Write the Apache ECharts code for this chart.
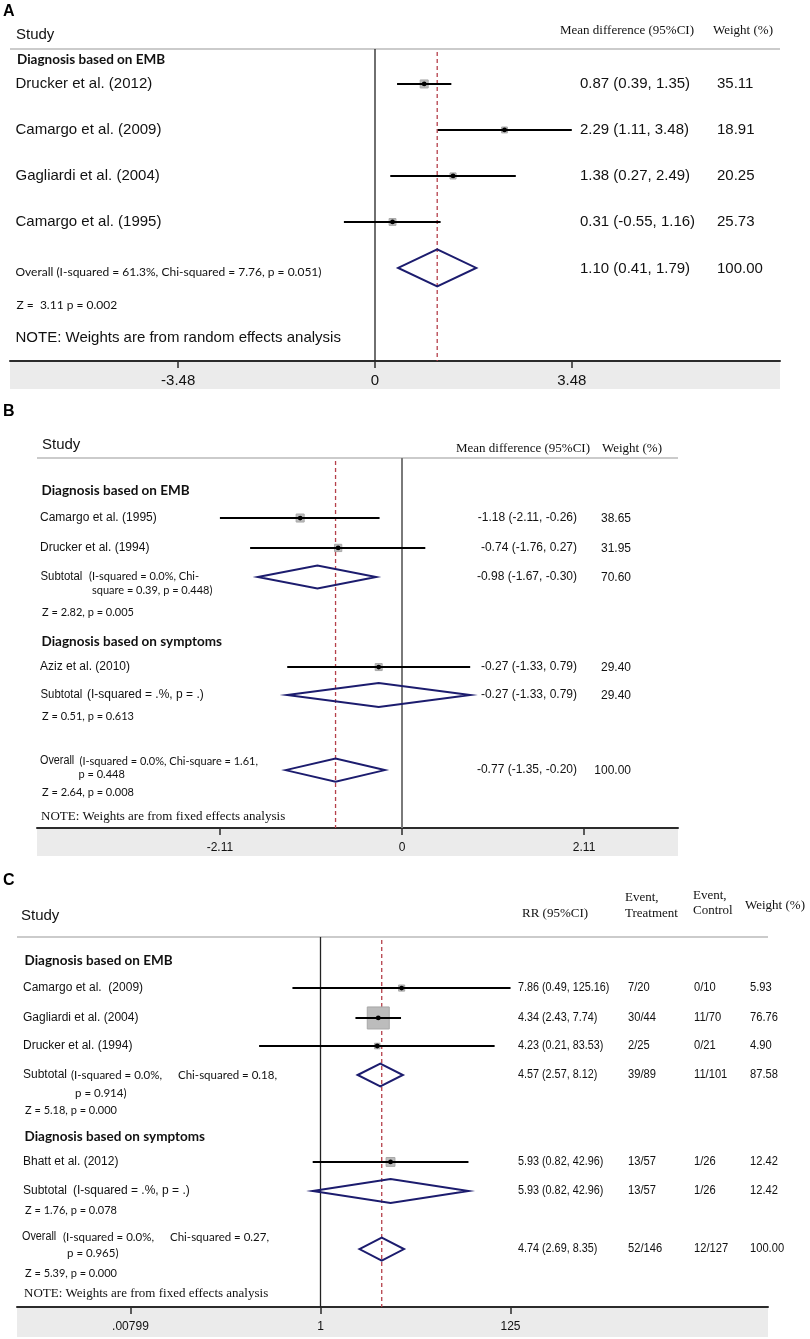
<!DOCTYPE html>
<html><head><meta charset="utf-8">
<script src="https://cdn.jsdelivr.net/npm/echarts@6/dist/echarts.min.js"></script>
<style>html,body{margin:0;padding:0;background:#fff}#main{width:810px;height:1339px}</style>
</head><body><div id="main"></div>
<script>
// ================= DATA =================
// ---- Panel A : mean difference, random effects ----
const aStudies = ['Drucker et al. (2012)', 'Camargo et al. (2009)', 'Gagliardi et al. (2004)', 'Camargo et al. (1995)'];
const aEst    = [0.87, 2.29, 1.38, 0.31];
const aLow    = [0.39, 1.11, 0.27, -0.55];
const aHigh   = [1.35, 3.48, 2.49, 1.16];
const aWeight = [35.11, 18.91, 20.25, 25.73];
const aOverall = [1.10, 0.41, 1.79, 100.00];          // est, low, high, weight
const aGroup = 'Diagnosis based on EMB';
const aOverallText = 'Overall (I-squared = 61.3%, Chi-squared = 7.76, p = 0.051)';
const aZText = 'Z =  3.11 p = 0.002';
const aNote = 'NOTE: Weights are from random effects analysis';
const aTicks = [-3.48, 0, 3.48];
const aTickLabels = ['-3.48', '0', '3.48'];

// ---- Panel B : mean difference, fixed effects ----
const bGroups = ['Diagnosis based on EMB', 'Diagnosis based on symptoms'];
const bStudies = ['Camargo et al. (1995)', 'Drucker et al. (1994)', 'Aziz et al. (2010)'];
const bEst    = [-1.18, -0.74, -0.27];
const bLow    = [-2.11, -1.76, -1.33];
const bHigh   = [-0.26, 0.27, 0.79];
const bWeight = [38.65, 31.95, 29.40];
const bSubEst    = [-0.98, -0.27];
const bSubLow    = [-1.67, -1.33];
const bSubHigh   = [-0.30, 0.79];
const bSubWeight = [70.60, 29.40];
const bOverall = [-0.77, -1.35, -0.20, 100.00];
const bSubHet = [['(I-squared = 0.0%, Chi-', 'square = 0.39, p = 0.448)'], ['(I-squared = .%, p = .)']];
const bZ = ['Z = 2.82, p = 0.005', 'Z = 0.51, p = 0.613', 'Z = 2.64, p = 0.008'];
const bOverallHet = ['(I-squared = 0.0%, Chi-square = 1.61,', 'p = 0.448'];
const bNote = 'NOTE: Weights are from fixed effects analysis';
const bTicks = [-2.11, 0, 2.11];
const bTickLabels = ['-2.11', '0', '2.11'];

// ---- Panel C : risk ratio, fixed effects ----
const cGroups = ['Diagnosis based on EMB', 'Diagnosis based on symptoms'];
const cStudies = ['Camargo et al.  (2009)', 'Gagliardi et al. (2004)', 'Drucker et al. (1994)', 'Bhatt et al. (2012)'];
const cEst    = [7.86, 4.34, 4.23, 5.93];
const cLow    = [0.49, 2.43, 0.21, 0.82];
const cHigh   = [125.16, 7.74, 83.53, 42.96];
const cEvT    = ['7/20', '30/44', '2/25', '13/57'];
const cEvC    = ['0/10', '11/70', '0/21', '1/26'];
const cWeight = [5.93, 76.76, 4.90, 12.42];
const cSubEst  = [4.57, 5.93];
const cSubLow  = [2.57, 0.82];
const cSubHigh = [8.12, 42.96];
const cSubEvT  = ['39/89', '13/57'];
const cSubEvC  = ['11/101', '1/26'];
const cSubWeight = [87.58, 12.42];
const cOverall = [4.74, 2.69, 8.35, 100.00];
const cOverallEv = ['52/146', '12/127'];
const cSubHet = [['(I-squared = 0.0%,', 'Chi-squared = 0.18,', 'p = 0.914)'], ['(I-squared = .%, p = .)']];
const cOverallHet = ['(I-squared = 0.0%,', 'Chi-squared = 0.27,', 'p = 0.965)'];
const cZ = ['Z = 5.18, p = 0.000', 'Z = 1.76, p = 0.078', 'Z = 5.39, p = 0.000'];
const cNote = 'NOTE: Weights are from fixed effects analysis';
const cTicks = [0.00799, 1, 125];
const cTickLabels = ['.00799', '1', '125'];

// ================= STYLE / LAYOUT =================
const AR = '"Liberation Sans", Arial, Helvetica, sans-serif';
const TR = '"Liberation Serif", "Times New Roman", serif';
const CL = 'Lato, "Open Sans", sans-serif';
const f = (s, fam, w) => (w ? w + ' ' : '') + s + 'px ' + fam;
const ci = (e, l, h) => e.toFixed(2) + ' (' + l.toFixed(2) + ', ' + h.toFixed(2) + ')';
const T = (text, x, slot, font, o) => Object.assign({ text, x, slot, font, dy: 0, align: 'left', sx: 1 }, o || {});
const id = v => v;

// ---------- Panel A ----------
const aSlots = { group: 0.45, studies: [1.52, 3.52, 5.52, 7.52], overall: 9.52, z: 11.13, note: 12.57 };
const PA = {
  grid: { left: 10, top: 49, width: 770, height: 312 }, zeroPx: 375, ppu: 56.55, unit: 23, tf: id, nullV: 0,
  ticks: aTicks, tickLabels: aTickLabels, tickFont: 15, labelMargin: 12, bandH: 28,
  zeroColor: '#222', zeroW: 1.3, overall: aOverall, boxK: 1.35,
  studies: aEst.map((e, j) => [aLow[j], aHigh[j], e, aSlots.studies[j], aWeight[j]]),
  diamonds: [[aOverall[1], aOverall[2], aOverall[0], aSlots.overall]], diamondH: [18.5],
  texts: [
    T('Study', 16, -0.62, f(15, AR)),
    T('Mean difference (95%CI)', 560, -0.8, f(13, TR)),
    T('Weight (%)', 713, -0.78, f(13, TR)),
    T(aGroup, 17, aSlots.group, f(13.5, CL, 'bold')),
    ...aStudies.map((s, j) => T(s, 15.5, aSlots.studies[j], f(15, AR))),
    ...aEst.map((e, j) => T(ci(e, aLow[j], aHigh[j]), 580, aSlots.studies[j], f(15, AR))),
    ...aWeight.map((w, j) => T(w.toFixed(2), 717, aSlots.studies[j], f(15, AR))),
    T(aOverallText, 15.5, aSlots.overall, f(12, CL), { dy: 4 }),
    T(ci(aOverall[0], aOverall[1], aOverall[2]), 580, aSlots.overall, f(15, AR), { dy: 1 }),
    T(aOverall[3].toFixed(2), 717, aSlots.overall, f(15, AR), { dy: 1 }),
    T(aZText, 16.5, aSlots.z, f(12, CL)),
    T(aNote, 15.5, aSlots.note, f(15, AR))
  ]
};

// ---------- Panel B ----------
const bSlots = { groups: [1.43, 8.0], studies: [2.61, 3.91, 9.09], subs: [5.17, 10.3], z: [6.7, 11.22, 14.52], overall: 13.57, note: 15.57 };
const PB = {
  grid: { left: 37, top: 458, width: 641, height: 370 }, zeroPx: 402, ppu: 86.3, unit: 23, tf: id, nullV: 0,
  ticks: bTicks, tickLabels: bTickLabels, tickFont: 12, labelMargin: 14, bandH: 28,
  zeroColor: '#7a7a7a', zeroW: 2, overall: bOverall, boxK: 1.29,
  studies: bEst.map((e, j) => [bLow[j], bHigh[j], e, bSlots.studies[j], bWeight[j]]),
  diamonds: [
    [bSubLow[0], bSubHigh[0], bSubEst[0], bSlots.subs[0]],
    [bSubLow[1], bSubHigh[1], bSubEst[1], bSlots.subs[1]],
    [bOverall[1], bOverall[2], bOverall[0], bSlots.overall]
  ], diamondH: [11.5, 12, 11.5],
  texts: [
    T('Study', 42, -0.565, f(15, AR)),
    T('Mean difference (95%CI)', 456, -0.43, f(13, TR)),
    T('Weight (%)', 602, -0.43, f(13, TR)),
    ...bGroups.map((g, j) => T(g, 41.5, bSlots.groups[j], f(13.5, CL, 'bold'))),
    ...bStudies.map((s, j) => T(s, 40, bSlots.studies[j], f(12, AR))),
    ...bEst.map((e, j) => T(ci(e, bLow[j], bHigh[j]), 577, bSlots.studies[j], f(12, AR), { align: 'right' })),
    ...bWeight.map((w, j) => T(w.toFixed(2), 631, bSlots.studies[j], f(12, AR), { align: 'right', dy: 1 })),
    T('Subtotal', 40.5, bSlots.subs[0], f(12, AR), { sx: 0.95 }),
    T(bSubHet[0][0], 89, bSlots.subs[0], f(11, CL)),
    T(bSubHet[0][1], 92, bSlots.subs[0], f(11, CL), { dy: 14 }),
    T('Subtotal', 40.5, bSlots.subs[1], f(12, AR), { sx: 0.95 }),
    T(bSubHet[1][0], 87, bSlots.subs[1], f(12, AR)),
    ...bSubEst.map((e, j) => T(ci(e, bSubLow[j], bSubHigh[j]), 577, bSlots.subs[j], f(12, AR), { align: 'right' })),
    ...bSubWeight.map((w, j) => T(w.toFixed(2), 631, bSlots.subs[j], f(12, AR), { align: 'right', dy: 1 })),
    ...bZ.map((z, j) => T(z, 42, bSlots.z[j], f(11, CL))),
    T('Overall', 40, bSlots.overall, f(12, AR), { dy: -9, sx: 0.9 }),
    T(bOverallHet[0], 79.5, bSlots.overall, f(11, CL), { dy: -9 }),
    T(bOverallHet[1], 78.5, bSlots.overall, f(11, CL), { dy: 4 }),
    T(ci(bOverall[0], bOverall[1], bOverall[2]), 577, bSlots.overall, f(12, AR), { align: 'right' }),
    T(bOverall[3].toFixed(2), 631, bSlots.overall, f(12, AR), { align: 'right', dy: 1 }),
    T(bNote, 41, bSlots.note, f(13, TR))
  ]
};

// ---------- Panel C ----------
const cSlots = { groups: [1.04, 8.7], studies: [2.22, 3.52, 4.74, 9.78], subs: [6.0, 11.04], z: [7.52, 11.87, 14.65], overall: 13.57, note: 15.52 };
const cCols = { est: 518, evT: 628, evC: 694, w: 750 };
const PC = {
  grid: { left: 17, top: 937, width: 751, height: 370 }, zeroPx: 320.5, ppu: 39.35, unit: 23, tf: Math.log, nullV: 1,
  ticks: cTicks, tickLabels: cTickLabels, tickFont: 12, labelMargin: 14, bandH: 30,
  zeroColor: '#222', zeroW: 1.3, overall: cOverall, boxK: 2.51,
  studies: cEst.map((e, j) => [cLow[j], cHigh[j], e, cSlots.studies[j], cWeight[j]]),
  diamonds: [
    [cSubLow[0], cSubHigh[0], cSubEst[0], cSlots.subs[0]],
    [cSubLow[1], cSubHigh[1], cSubEst[1], cSlots.subs[1]],
    [cOverall[1], cOverall[2], cOverall[0], cSlots.overall]
  ], diamondH: [11.5, 12, 11.5],
  texts: [
    T('Study', 21, -0.91, f(15, AR)),
    T('RR (95%CI)', 522, -1.04, f(13, TR)),
    T('Event,', 625, -1.7, f(13, TR)),
    T('Treatment', 625, -1.04, f(13, TR)),
    T('Event,', 693, -1.78, f(13, TR)),
    T('Control', 693, -1.13, f(13, TR)),
    T('Weight (%)', 745, -1.35, f(13, TR)),
    ...cGroups.map((g, j) => T(g, 24.5, cSlots.groups[j], f(13.5, CL, 'bold'))),
    ...cStudies.map((s, j) => T(s, 23, cSlots.studies[j], f(12, AR))),
    ...cEst.map((e, j) => T(ci(e, cLow[j], cHigh[j]), cCols.est, cSlots.studies[j], f(12, AR), { sx: 0.9 })),
    ...cEvT.map((s, j) => T(s, cCols.evT, cSlots.studies[j], f(12, AR), { sx: 0.93 })),
    ...cEvC.map((s, j) => T(s, cCols.evC, cSlots.studies[j], f(12, AR), { sx: 0.93 })),
    ...cWeight.map((w, j) => T(w.toFixed(2), cCols.w, cSlots.studies[j], f(12, AR), { sx: 0.93 })),
    T('Subtotal', 23, cSlots.subs[0], f(12, AR)),
    T(cSubHet[0][0], 71, cSlots.subs[0], f(11.5, CL)),
    T(cSubHet[0][1], 178, cSlots.subs[0], f(11.5, CL)),
    T(cSubHet[0][2], 75, cSlots.subs[0], f(11.5, CL), { dy: 18 }),
    T('Subtotal', 23, cSlots.subs[1], f(12, AR)),
    T(cSubHet[1][0], 73, cSlots.subs[1], f(12, AR)),
    ...cSubEst.map((e, j) => T(ci(e, cSubLow[j], cSubHigh[j]), cCols.est, cSlots.subs[j], f(12, AR), { sx: 0.9 })),
    ...cSubEvT.map((s, j) => T(s, cCols.evT, cSlots.subs[j], f(12, AR), { sx: 0.93 })),
    ...cSubEvC.map((s, j) => T(s, cCols.evC, cSlots.subs[j], f(12, AR), { sx: 0.93 })),
    ...cSubWeight.map((w, j) => T(w.toFixed(2), cCols.w, cSlots.subs[j], f(12, AR), { sx: 0.93 })),
    ...cZ.map((z, j) => T(z, 25, cSlots.z[j], f(11, CL))),
    T('Overall', 22, cSlots.overall, f(12, AR), { dy: -12, sx: 0.9 }),
    T(cOverallHet[0], 63, cSlots.overall, f(11.5, CL), { dy: -12 }),
    T(cOverallHet[1], 170, cSlots.overall, f(11.5, CL), { dy: -12 }),
    T(cOverallHet[2], 67, cSlots.overall, f(11.5, CL), { dy: 4 }),
    T(ci(cOverall[0], cOverall[1], cOverall[2]), cCols.est, cSlots.overall, f(12, AR), { sx: 0.9 }),
    T(cOverallEv[0], cCols.evT, cSlots.overall, f(12, AR), { sx: 0.93 }),
    T(cOverallEv[1], cCols.evC, cSlots.overall, f(12, AR), { sx: 0.93 }),
    T(cOverall[3].toFixed(2), cCols.w, cSlots.overall, f(12, AR), { sx: 0.93 }),
    T(cNote, 24, cSlots.note, f(13, TR))
  ]
};

// ================= BUILD =================
const option = { animation: false, backgroundColor: '#ffffff', grid: [], xAxis: [], yAxis: [], series: [],
  graphic: [
    { type: 'text', left: 3, top: 4, style: { text: 'A', font: f(16, AR, 'bold'), fill: '#000' } },
    { type: 'text', left: 3, top: 404, style: { text: 'B', font: f(16, AR, 'bold'), fill: '#000' } },
    { type: 'text', left: 3, top: 873, style: { text: 'C', font: f(16, AR, 'bold'), fill: '#000' } }
  ] };

function addPanel(i, P) {
  const xmin = (P.grid.left - P.zeroPx) / P.ppu;
  const xmax = (P.grid.left + P.grid.width - P.zeroPx) / P.ppu;
  const ymax = P.grid.height / P.unit;
  const tv = P.ticks.map(P.tf);
  option.grid.push(Object.assign({}, P.grid));
  option.xAxis.push({
    type: 'value', gridIndex: i, min: xmin, max: xmax, position: 'bottom',
    axisLine: { show: true, onZero: false, lineStyle: { color: '#2b2b2b', width: 2 } },
    axisTick: { show: true, customValues: tv, length: 7, lineStyle: { color: '#2b2b2b', width: 1.5 } },
    axisLabel: { show: true, customValues: tv, margin: P.labelMargin, color: '#111', fontFamily: AR, fontSize: P.tickFont,
      formatter: v => { const k = tv.findIndex(t => Math.abs(t - v) < 1e-6); return k >= 0 ? P.tickLabels[k] : ''; } },
    splitLine: { show: false }
  });
  option.yAxis.push({ type: 'value', gridIndex: i, min: 0, max: ymax, inverse: true, show: false });
  const base = { type: 'custom', xAxisIndex: i, yAxisIndex: i, silent: true, animation: false, clip: false };
  // gray band below the axis
  option.series.push(Object.assign({}, base, { z: -1, data: [[0, 0]], renderItem: (p, api) => {
    const a = api.coord([xmin, ymax]), b = api.coord([xmax, ymax]);
    return { type: 'rect', shape: { x: a[0], y: a[1], width: b[0] - a[0], height: P.bandH }, style: { fill: '#ebebeb' } };
  } }));
  // frame: top rule, null line, dashed overall line
  option.series.push(Object.assign({}, base, { z: 1, data: [[0, 0]], renderItem: (p, api) => {
    const t1 = api.coord([xmin, 0]), t2 = api.coord([xmax, 0]);
    const z1 = api.coord([P.tf(P.nullV), 0]), z2 = api.coord([P.tf(P.nullV), ymax]);
    const d1 = api.coord([P.tf(P.overall[0]), 0]), d2 = api.coord([P.tf(P.overall[0]), ymax]);
    return { type: 'group', children: [
      { type: 'line', shape: { x1: t1[0], y1: t1[1], x2: t2[0], y2: t2[1] }, style: { stroke: '#cbcbcb', lineWidth: 2 } },
      { type: 'line', shape: { x1: z1[0], y1: z1[1], x2: z2[0], y2: z2[1] }, style: { stroke: P.zeroColor, lineWidth: P.zeroW } },
      { type: 'line', shape: { x1: d1[0], y1: d1[1] + 3, x2: d2[0], y2: d2[1] }, style: { stroke: '#b5404a', lineWidth: 1.3, lineDash: [4, 3] } }
    ] };
  } }));
  // study CIs, weight boxes, point estimates
  option.series.push(Object.assign({}, base, { z: 3,
    data: P.studies.map(r => [P.tf(r[0]), P.tf(r[1]), P.tf(r[2]), r[3], r[4]]),
    renderItem: (p, api) => {
      const lo = api.coord([api.value(0), api.value(3)]), hi = api.coord([api.value(1), api.value(3)]);
      const c = api.coord([api.value(2), api.value(3)]);
      const s = P.boxK * Math.sqrt(api.value(4));
      return { type: 'group', children: [
        { type: 'rect', shape: { x: c[0] - s / 2, y: c[1] - s / 2, width: s, height: s }, style: { fill: '#bcbcbc', stroke: '#a8a8a8', lineWidth: 1 } },
        { type: 'line', shape: { x1: lo[0], y1: lo[1], x2: hi[0], y2: hi[1] }, style: { stroke: '#000', lineWidth: 2 } },
        { type: 'circle', shape: { cx: c[0], cy: c[1], r: 2.4 }, style: { fill: '#000' } }
      ] };
    } }));
  // pooled diamonds
  option.series.push(Object.assign({}, base, { z: 3,
    data: P.diamonds.map(r => [P.tf(r[0]), P.tf(r[1]), P.tf(r[2]), r[3]]),
    renderItem: (p, api) => {
      const h = P.diamondH[p.dataIndex];
      const lo = api.coord([api.value(0), api.value(3)]), hi = api.coord([api.value(1), api.value(3)]);
      const c = api.coord([api.value(2), api.value(3)]);
      return { type: 'polygon', shape: { points: [[lo[0], lo[1]], [c[0], c[1] - h], [hi[0], hi[1]], [c[0], c[1] + h]] },
        style: { fill: 'none', stroke: '#1c1c6e', lineWidth: 2 } };
    } }));
  // texts
  option.series.push(Object.assign({}, base, { z: 4,
    data: P.texts.map((t, j) => [0, t.slot]),
    renderItem: (p, api) => {
      const t = P.texts[p.dataIndex];
      const y = api.coord([0, api.value(1)])[1] + t.dy;
      return { type: 'text', x: t.x, y: y, scaleX: t.sx, scaleY: 1,
        style: { text: t.text, font: t.font, fill: '#111', textAlign: t.align, align: t.align,
          textVerticalAlign: 'middle', verticalAlign: 'middle' } };
    } }));
}
addPanel(0, PA);
addPanel(1, PB);
addPanel(2, PC);

const chart = echarts.init(document.getElementById('main'), null, { renderer: 'canvas', width: 810, height: 1339 });
chart.setOption(option);
</script>
</body></html>
